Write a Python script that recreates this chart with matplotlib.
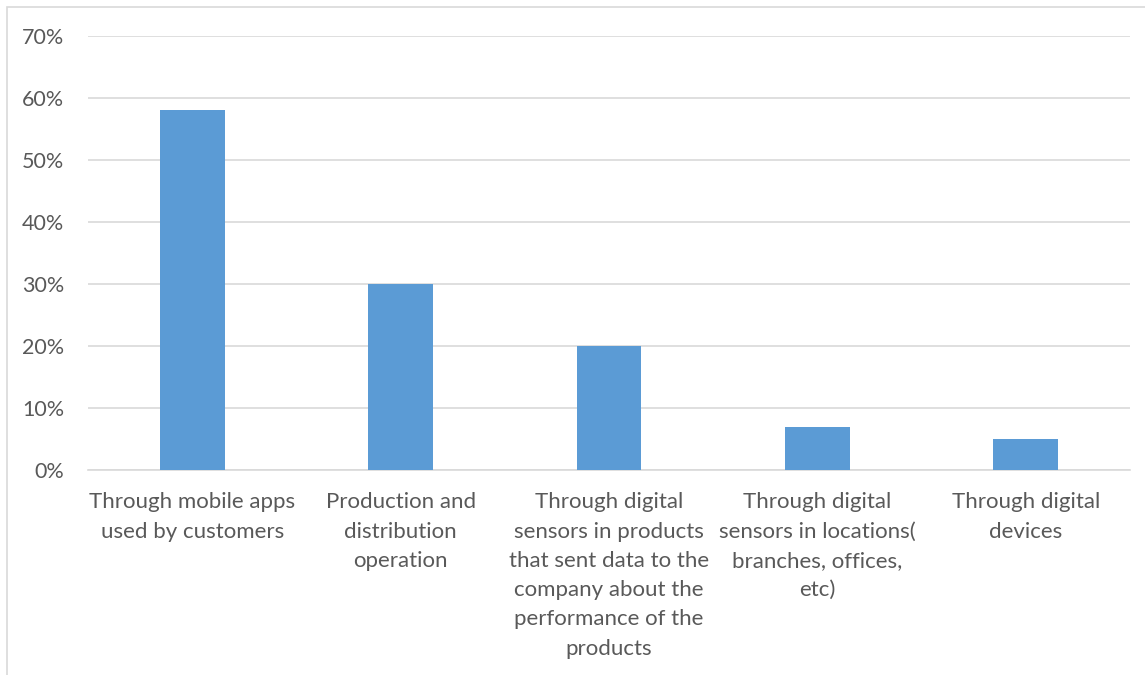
import matplotlib.pyplot as plt
import numpy as np
from matplotlib.patches import Rectangle

categories = [
    "Through mobile apps\nused by customers",
    "Production and\ndistribution\noperation",
    "Through digital\nsensors in products\nthat sent data to the\ncompany about the\nperformance of the\nproducts",
    "Through digital\nsensors in locations(\nbranches, offices,\netc)",
    "Through digital\ndevices",
]
values = [58, 30, 20, 7, 5]
yticks = [0, 10, 20, 30, 40, 50, 60, 70]

plt.rcParams['font.family'] = ['Lato', 'DejaVu Sans']
text_color = '#595959'

fig = plt.figure(figsize=(11.45, 6.75), dpi=100)
ax = fig.add_axes([88 / 1145, 1 - 470 / 675, 1042 / 1145, 434 / 675])

x = np.arange(len(values))
ax.bar(x, values, width=0.31, color='#5B9BD5', zorder=3)

ax.set_xlim(-0.5, len(values) - 0.5)
ax.set_ylim(0, 70)
ax.set_yticks(yticks)
ax.set_yticklabels([f'{t}%' for t in yticks])
ax.yaxis.grid(True, color='#D9D9D9', linewidth=1.2, zorder=0)
ax.set_xticks(x)
ax.set_xticklabels(categories, linespacing=1.58)

ax.tick_params(axis='y', length=0, labelsize=15.5, colors=text_color, pad=17)
ax.tick_params(axis='x', length=0, labelsize=16, colors=text_color, pad=16)
for s in ['top', 'right', 'left']:
    ax.spines[s].set_visible(False)
ax.spines['bottom'].set_color('#D9D9D9')
ax.spines['bottom'].set_linewidth(1.2)

# outer chart border
fig.patches.append(Rectangle((7 / 1145, -0.1), 1.2, 1 - 7 / 675 + 0.1,
                             transform=fig.transFigure, fill=False,
                             edgecolor='#D9D9D9', linewidth=1.2))

fig.savefig('out.png', dpi=100)
